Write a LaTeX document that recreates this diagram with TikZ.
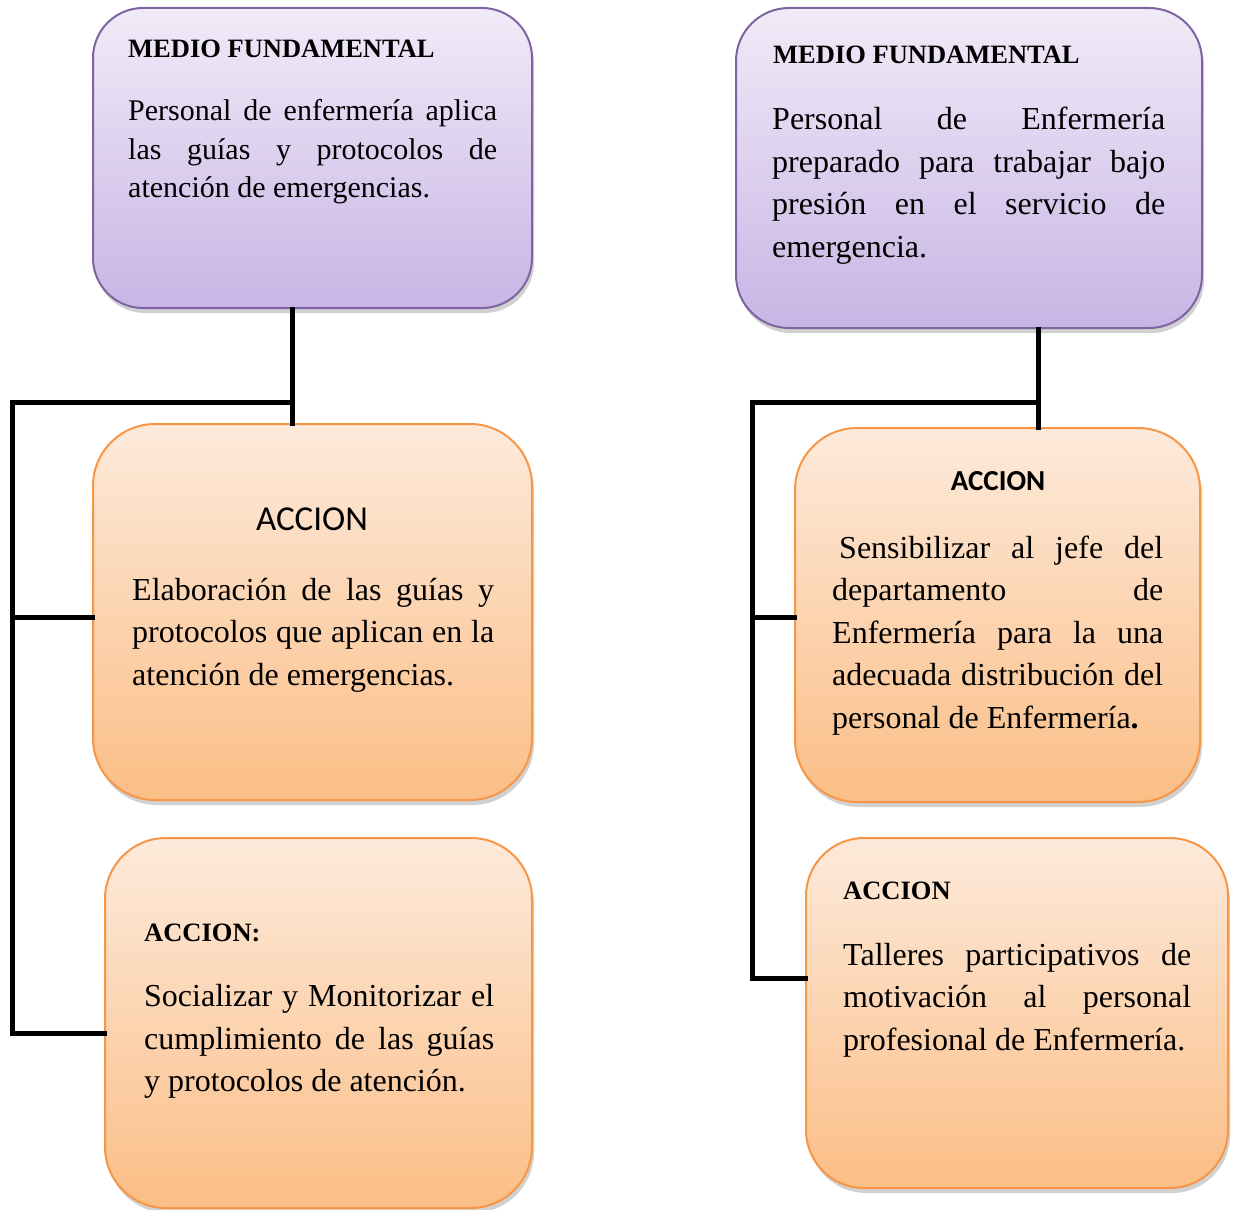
\documentclass[tikz,border=0pt]{standalone}
\usepackage{fontspec}
\setmainfont{Liberation Serif}
\newfontfamily\calibri{Carlito}
\usetikzlibrary{shadows}

\definecolor{lilaborde}{RGB}{128,100,162}
\definecolor{lilaarriba}{RGB}{241,235,248}
\definecolor{lilaabajo}{RGB}{200,181,229}
\definecolor{naranjaborde}{RGB}{247,150,70}
\definecolor{naranjaarriba}{RGB}{253,234,219}
\definecolor{naranjaabajo}{RGB}{251,190,134}

\tikzset{
  caja/.style={draw, line width=2pt, drop shadow={shadow xshift=2pt, shadow yshift=-5pt, opacity=0.3, fill=black!60}},
  medio/.style={caja, draw=lilaborde, top color=lilaarriba, bottom color=lilaabajo},
  accion/.style={caja, draw=naranjaborde, top color=naranjaarriba, bottom color=naranjaabajo},
  titulo/.style={inner sep=0pt, anchor=base west, font=\fontsize{26.5}{30}\selectfont\bfseries},
  cuerpo/.style={inner sep=0pt, anchor=base west, align=justify, font=\fontsize{32}{42.5}\selectfont},
  enlace/.style={line width=5pt, line cap=rect}
}

\begin{document}
\begin{tikzpicture}[x=1pt, y=-1pt]
\useasboundingbox (0,0) rectangle (1233,1209);

% cajas
\node[medio, rounded corners=50pt, minimum width=439pt, minimum height=300pt] (medio1) at (312.5,158) {};
\node[medio, rounded corners=53pt, minimum width=466pt, minimum height=320pt] (medio2) at (969,168) {};
\node[accion, rounded corners=62pt, minimum width=439pt, minimum height=376pt] (accion1) at (312.5,612) {};
\node[accion, rounded corners=61pt, minimum width=427pt, minimum height=370pt] (accion2) at (318.5,1023) {};
\node[accion, rounded corners=62pt, minimum width=405pt, minimum height=374pt] (accion3) at (997.5,615) {};
\node[accion, rounded corners=58pt, minimum width=422pt, minimum height=350pt] (accion4) at (1017,1013) {};

% textos
\node[titulo] (tmedio1) at (128,58) {MEDIO FUNDAMENTAL};
\node[cuerpo, text width=369pt, font=\fontsize{30}{38.7}\selectfont] (cmedio1) at (128,120.5)
  {Personal de enfermería aplica\linebreak las guías y protocolos de\linebreak atención de emergencias.};
\node[titulo] (tmedio2) at (773,64) {MEDIO FUNDAMENTAL};
\node[cuerpo, text width=393pt] (cmedio2) at (772,130)
  {Personal de Enfermería\linebreak preparado para trabajar bajo\linebreak presión en el servicio de\linebreak emergencia.};
\node[inner sep=0pt, anchor=base, font=\fontsize{35}{40}\selectfont\calibri] (taccion1) at (312,530) {ACCION};
\node[cuerpo, text width=362pt] (caccion1) at (132,600)
  {Elaboración de las guías y\linebreak protocolos que aplican en la\linebreak atención de emergencias.};
\node[titulo] (taccion2) at (144,941) {ACCION:};
\node[cuerpo, text width=350pt] (caccion2) at (144,1006.5)
  {Socializar y Monitorizar el\linebreak cumplimiento de las guías\linebreak y protocolos de atención.};
\node[inner sep=0pt, anchor=base, font=\fontsize{29}{34}\selectfont\calibri\bfseries] (taccion3) at (998,490) {ACCION};
\node[cuerpo, text width=331pt] (caccion3) at (832,558)
  {\hspace*{7pt}Sensibilizar al jefe del\linebreak departamento de\linebreak Enfermería para la una\linebreak adecuada distribución del\linebreak personal de Enfermería\textbf{.}};
\node[titulo] (taccion4) at (843,899) {ACCION};
\node[cuerpo, text width=348pt] (caccion4) at (843,965)
  {Talleres participativos de\linebreak motivación al personal\linebreak profesional de Enfermería.};

% conectores
\coordinate (nudo1) at (292,402);
\coordinate (esquina1) at (12,402);
\coordinate (fondo1) at (12,1033);
\coordinate (nudo2) at (1038,402);
\coordinate (esquina2) at (752,402);
\coordinate (fondo2) at (752,978);

\draw[enlace] (medio1.south -| nudo1) -- (nudo1 |- accion1.north);
\draw[enlace] (nudo1) -- (esquina1) -- (fondo1) -- (fondo1 -| accion2.west);
\draw[enlace] (esquina1 |- 0,617) -- (accion1.west |- 0,617);
\draw[enlace] (medio2.south -| nudo2) -- (nudo2 |- accion3.north);
\draw[enlace] (nudo2) -- (esquina2) -- (fondo2) -- (fondo2 -| accion4.west);
\draw[enlace] (esquina2 |- 0,617) -- (accion3.west |- 0,617);
\end{tikzpicture}
\end{document}
